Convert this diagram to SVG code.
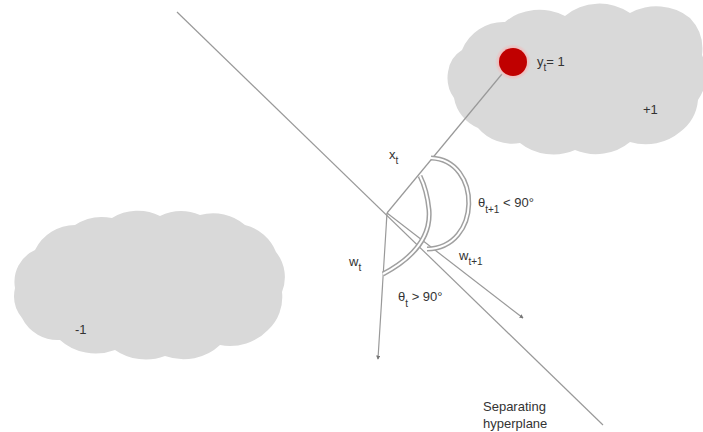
<svg xmlns="http://www.w3.org/2000/svg" width="703" height="432" viewBox="0 0 703 432">
<style>
.cloud{fill:#d9d9d9;stroke:none}
.ln{stroke:#999;stroke-width:1.2;fill:none}
.arcO{stroke:#a0a0a0;stroke-width:5;fill:none}
.arcI{stroke:#ffffff;stroke-width:2;fill:none}
text{font-family:"Liberation Sans","Open Sans",sans-serif;font-size:13px;fill:#333}
.sub{font-size:10px}
</style>
<defs>
<marker id="ah" viewBox="0 0 6 6" refX="5" refY="3" markerWidth="3.5" markerHeight="3.5" orient="auto">
<path d="M0,0 L6,3 L0,6 Z" fill="#777"/>
</marker>
<radialGradient id="glow">
<stop offset="0.75" stop-color="#f4b8b8"/>
<stop offset="1" stop-color="#f4b8b8" stop-opacity="0"/>
</radialGradient>
</defs>
<rect width="703" height="432" fill="#fff"/>
<g id="cloud-pos">
<path class="cloud" d="M462,50 A45,45 0 0 1 505,22 A50,45 0 0 1 565,16 A50,45 0 0 1 630,13 A50,45 0 0 1 690,18 A45,45 0 0 1 702,55 A45,45 0 0 1 698,100 A45,45 0 0 1 680,132 A50,45 0 0 1 630,142 A50,45 0 0 1 575,150 A50,45 0 0 1 520,143 A45,45 0 0 1 478,128 A40,40 0 0 1 454,98 A35,35 0 0 1 448,72 A30,30 0 0 1 462,50 Z"/>
<text x="643" y="114">+1</text>
</g>
<g id="cloud-neg">
<path class="cloud" d="M35,250 A45,45 0 0 1 75,225 A45,40 0 0 1 112,218 A45,40 0 0 1 160,216 A45,40 0 0 1 200,215 A45,40 0 0 1 245,225 A45,45 0 0 1 276,252 A40,40 0 0 1 282,292 A45,45 0 0 1 268,330 A50,45 0 0 1 220,345 A50,45 0 0 1 165,356 A50,45 0 0 1 115,350 A50,45 0 0 1 60,340 A40,40 0 0 1 22,318 A35,35 0 0 1 15,288 A35,35 0 0 1 35,250 Z"/>
<text x="75" y="334">-1</text>
</g>
<g id="connectors">
<line id="hyperplane" class="ln" x1="177" y1="12" x2="603" y2="425"/>
<line id="xt" class="ln" x1="387" y1="213" x2="502" y2="74"/>
<line id="wt" class="ln" x1="387" y1="213" x2="378" y2="359" marker-end="url(#ah)"/>
<line id="wt1" class="ln" x1="387" y1="213" x2="523" y2="318" marker-end="url(#ah)"/>
</g>
<g id="arc-theta-t">
<path class="arcO" d="M383,274 Q432,248 429,210 Q427,190 420,176"/>
<path class="arcI" d="M383,274 Q432,248 429,210 Q427,190 420,176"/>
</g>
<g id="arc-theta-t1">
<path class="arcO" d="M431,158 C482,160 482,248 427,249"/>
<path class="arcI" d="M431,158 C482,160 482,248 427,249"/>
</g>
<g id="point">
<circle cx="513" cy="62" r="18" fill="url(#glow)"/>
<circle cx="513" cy="62" r="14" fill="#c00000"/>
<text x="537" y="66">y<tspan class="sub" dy="5">t</tspan><tspan dy="-5">= 1</tspan></text>
</g>
<g id="labels">
<text x="389" y="159">x<tspan class="sub" dy="5">t</tspan></text>
<text x="478" y="207">θ<tspan class="sub" dy="6">t+1</tspan><tspan dy="-6"> &lt; 90°</tspan></text>
<text x="459" y="260">w<tspan class="sub" dy="5">t+1</tspan></text>
<text x="349" y="266">w<tspan class="sub" dy="5">t</tspan></text>
<text x="398" y="301">θ<tspan class="sub" dy="6">t</tspan><tspan dy="-6"> &gt; 90°</tspan></text>
<text x="483" y="411">Separating</text>
<text x="483" y="428">hyperplane</text>
</g>
</svg>
